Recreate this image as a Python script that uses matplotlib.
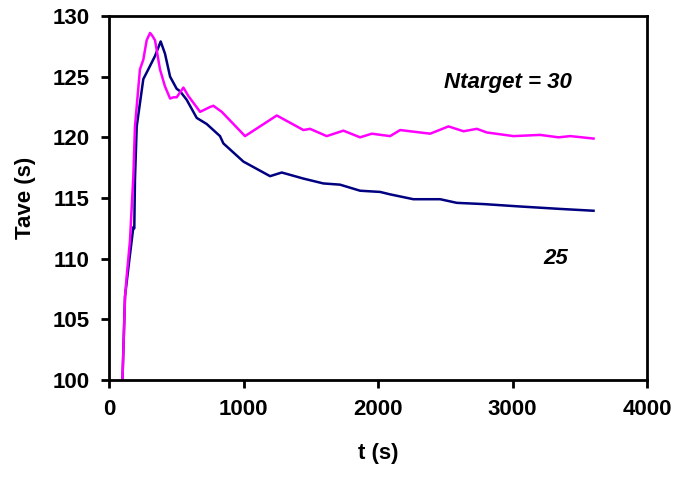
import matplotlib.pyplot as plt

# Ntarget = 30 (magenta)
t30 = [100, 119, 131, 156, 169, 181, 193, 230, 255, 280, 305, 320, 342, 379, 416,
       454, 480, 503, 553, 590, 677, 751, 776, 838, 1011, 1247, 1346, 1445, 1494,
       1618, 1742, 1866, 1953, 2089, 2164, 2387, 2523, 2635, 2734, 2808, 3006,
       3204, 3341, 3428, 3601]
tave30 = [100, 106.8, 108.5, 111.5, 114.3, 116.8, 120.9, 125.6, 126.4, 128.0, 128.6,
          128.4, 128.0, 125.6, 124.2, 123.2, 123.3, 123.3, 124.1, 123.4, 122.1, 122.5,
          122.6, 122.1, 120.1, 121.8, 121.2, 120.6, 120.7, 120.1, 120.55, 120.0,
          120.3, 120.1, 120.6, 120.3, 120.9, 120.5, 120.7, 120.4, 120.1, 120.2,
          120.0, 120.1, 119.9]

# Ntarget = 25 (navy)
t25 = [100, 119, 150, 181, 188, 193, 206, 255, 292, 342, 384, 416, 454, 503, 528,
       577, 652, 726, 825, 850, 999, 1197, 1284, 1445, 1593, 1717, 1866, 2015,
       2089, 2262, 2461, 2585, 2783, 3056, 3353, 3601]
tave25 = [100, 106.9, 109.8, 112.6, 112.5, 116.5, 120.9, 124.8, 125.6, 126.7, 127.9,
          126.9, 125.0, 124.0, 123.8, 123.1, 121.6, 121.1, 120.1, 119.5, 118.0,
          116.8, 117.1, 116.6, 116.2, 116.1, 115.6, 115.5, 115.3, 114.9, 114.9,
          114.6, 114.5, 114.3, 114.1, 113.95]

xticks = [0, 1000, 2000, 3000, 4000]
yticks = [100, 105, 110, 115, 120, 125, 130]

plt.rcParams['font.family'] = ['Liberation Sans', 'DejaVu Sans']

fig = plt.figure(figsize=(6.77, 4.8), dpi=100)
ax = fig.add_axes([0.161, 0.2083, 0.795, 0.7584])

ax.plot(t25, tave25, color='#000080', lw=1.8)
ax.plot(t30, tave30, color='#ff00ff', lw=1.8)

ax.set_xlim(0, 4000)
ax.set_ylim(100, 130)
ax.set_xticks(xticks)
ax.set_yticks(yticks)
ax.tick_params(direction='out', length=6, width=2, labelsize=16, pad=8)
for lab in ax.get_xticklabels() + ax.get_yticklabels():
    lab.set_fontweight('bold')
for sp in ax.spines.values():
    sp.set_linewidth(2)

ax.set_xlabel('t (s)', fontsize=16, fontweight='bold', labelpad=16)
ax.set_ylabel('Tave (s)', fontsize=16, fontweight='bold', labelpad=12)

ax.text(2967, 124.5, 'Ntarget = 30', fontsize=16, fontweight='bold', style='italic',
        ha='center', va='center')
ax.text(3323, 110.0, '25', fontsize=16, fontweight='bold', style='italic',
        ha='center', va='center')

fig.savefig('out.png', dpi=100)
